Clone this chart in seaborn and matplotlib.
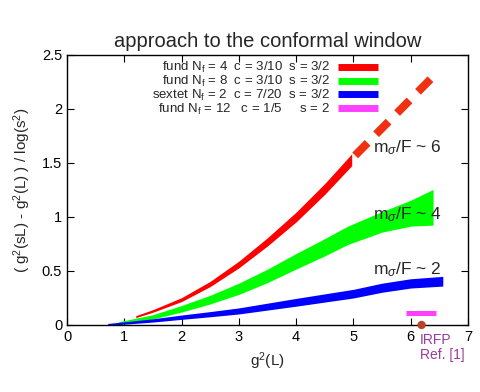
import numpy as np
import pandas as pd
import matplotlib
matplotlib.use("Agg")
import matplotlib.pyplot as plt
from matplotlib.lines import Line2D
import seaborn as sns

# red band: fund Nf=4
red_x = [1.2, 1.5, 2.0, 2.5, 3.0, 3.5, 4.0, 4.5, 4.97]
red_lo = [0.068, 0.118, 0.217, 0.356, 0.529, 0.732, 0.955, 1.21, 1.475]
red_hi = [0.086, 0.142, 0.253, 0.404, 0.591, 0.808, 1.045, 1.31, 1.585]
# dashed continuation
dash_x = [5.03, 6.39]
dash_y = [1.57, 2.30]

# green band: fund Nf=8
green_x = [0.9, 1.5, 2.0, 2.5, 3.0, 3.5, 4.0, 4.5, 4.9, 5.5, 6.0, 6.39]
green_lo = [0.006, 0.055, 0.12, 0.195, 0.283, 0.393, 0.518, 0.64, 0.745, 0.86, 0.915, 0.925]
green_hi = [0.03, 0.095, 0.18, 0.275, 0.387, 0.517, 0.662, 0.80, 0.915, 1.05, 1.155, 1.255]

# blue band: sextet Nf=2
blue_x = [0.71, 1.0, 1.5, 2.0, 2.5, 3.0, 3.5, 4.0, 4.5, 5.0, 5.5, 6.0, 6.56]
blue_lo = [0.0, 0.007, 0.027, 0.052, 0.076, 0.102, 0.138, 0.174, 0.212, 0.25, 0.303, 0.342, 0.36]
blue_hi = [0.014, 0.029, 0.057, 0.092, 0.124, 0.158, 0.202, 0.246, 0.288, 0.33, 0.387, 0.428, 0.45]

# magenta bar: fund Nf=12
mag_x = [5.92, 6.44]
mag_y = [0.11, 0.11]

# IRFP point
irfp_x = [6.19]
irfp_y = [0.0]

labels = ["fund N$_\\mathrm{f}$ = 4  c = 3/10  s = 3/2",
          "fund N$_\\mathrm{f}$ = 8  c = 3/10  s = 3/2",
          "sextet N$_\\mathrm{f}$ = 2  c = 7/20  s = 3/2",
          "fund N$_\\mathrm{f}$ = 12   c = 1/5     s = 2"]
colors = ["#ff0000", "#00ff00", "#0000ff", "#ff40ff"]

sns.set_style("ticks")
plt.rcParams["font.family"] = ["Liberation Sans", "DejaVu Sans"]
plt.rcParams["mathtext.fontset"] = "custom"
plt.rcParams["mathtext.rm"] = "Liberation Sans"
plt.rcParams["mathtext.it"] = "Liberation Sans:italic"
plt.rcParams["mathtext.sf"] = "Liberation Sans"

fig = plt.figure(figsize=(4.8, 3.92), dpi=100)
ax = fig.add_axes([0.1396, 0.171, 0.8354, 0.6887])

ax.fill_between(red_x, red_lo, red_hi, color=colors[0], lw=0)
ax.fill_between(green_x, green_lo, green_hi, color=colors[1], lw=0)
ax.fill_between(blue_x, blue_lo, blue_hi, color=colors[2], lw=0)

sns.lineplot(x=dash_x, y=dash_y, ax=ax, color="#f03010", lw=5.8,
             linestyle=(0, (2.2, 1.5)), solid_capstyle="butt")
sns.lineplot(x=mag_x, y=mag_y, ax=ax, color=colors[3], lw=3.6,
             solid_capstyle="butt")
sns.scatterplot(x=irfp_x, y=irfp_y, ax=ax, color="#b5442a", s=36,
                edgecolor="none", clip_on=False, zorder=5)

ax.set_xlim(0, 7)
ax.set_ylim(0, 2.5)
ax.set_xticks(range(8))
ax.set_yticks([0, 0.5, 1, 1.5, 2, 2.5])
ax.set_yticklabels(["0", "0.5", "1", "1.5", "2", "2.5"])
ax.tick_params(direction="in", top=True, right=True, length=5, width=0.8,
               labelsize=10.5, colors="black")
for sp in ax.spines.values():
    sp.set_visible(True)
    sp.set_linewidth(1.0)
    sp.set_color("black")

ax.set_xlabel("g$^2$(L)", fontsize=11, labelpad=5)
ax.set_ylabel("( g$^2$(sL) - g$^2$(L) ) / log(s$^2$)", fontsize=11, labelpad=6)
ax.set_title("approach to the conformal window", fontsize=14.5, pad=6)

ax.text(5.34, 1.64, "m$_\\sigma$/F ~ 6", fontsize=12.5, va="center")
ax.text(5.34, 1.02, "m$_\\sigma$/F ~ 4", fontsize=12.5, va="center")
ax.text(5.34, 0.51, "m$_\\sigma$/F ~ 2", fontsize=12.5, va="center")
ax.text(6.16, -0.07, "IRFP\nRef. [1]", fontsize=10, color="#9b3a9b",
        va="top", ha="left", linespacing=1.1)

handles = [Line2D([0], [0], color=c, lw=5, solid_capstyle="butt") for c in colors]
ax.legend(handles, labels, loc="upper right", bbox_to_anchor=(0.78, 0.985),
          frameon=False, markerfirst=False, fontsize=9.5, handlelength=3.1,
          handletextpad=0.55, labelspacing=-0.1, borderpad=0.1, borderaxespad=0)

fig.savefig("out.png", dpi=100)
